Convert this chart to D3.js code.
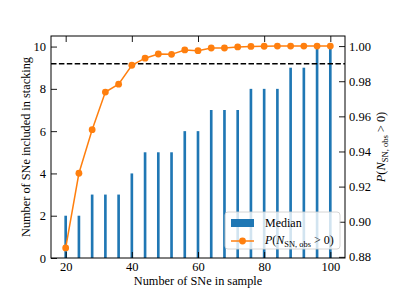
<!DOCTYPE html>
<meta charset="utf-8">
<script src="https://d3js.org/d3.v7.min.js"></script>
<style>
  body { margin: 0; background: #fff; }
  text { font-family: "Liberation Serif", "Times New Roman", serif; fill: #000; }
</style>
<svg id="chart" width="407" height="305"></svg>
<script>

// data
var sampleSizes  = [20, 24, 28, 32, 36, 40, 44, 48, 52, 56, 60, 64, 68, 72, 76, 80, 84, 88, 92, 96, 100];
var medianCounts = [2, 2, 3, 3, 3, 4, 5, 5, 5, 6, 6, 7, 7, 7, 8, 8, 8, 9, 9, 10, 10];
var probDetect   = [0.8851, 0.9276, 0.9524, 0.9738, 0.9783, 0.9891, 0.9931, 0.9955, 0.9953, 0.9978,
                    0.9974, 0.9989, 0.9989, 0.9995, 0.9998, 0.9999, 1.0, 1.0, 1.0, 1.0, 1.0];
var threshold    = 0.99;
var xTicks  = [20, 40, 60, 80, 100];
var yTicks  = [0, 2, 4, 6, 8, 10];
var y2Ticks = [0.88, 0.90, 0.92, 0.94, 0.96, 0.98, 1.00];

var svg = d3.select("#chart");
var L = 51, T = 36, R = 345, B = 258;

// matplotlib style limits: 5% margins around the data
var barW = 0.8;
var xmin = d3.min(sampleSizes) - barW / 2, xmax = d3.max(sampleSizes) + barW / 2;
var xpad = (xmax - xmin) * 0.05;
var x = d3.scaleLinear().domain([xmin - xpad, xmax + xpad]).range([L, R]);
var y = d3.scaleLinear().domain([0, d3.max(medianCounts) * 1.05]).range([B, T]);
var pmin = d3.min(probDetect), pmax = d3.max(probDetect), ppad = (pmax - pmin) * 0.05;
var y2 = d3.scaleLinear().domain([pmin - ppad, pmax + ppad]).range([B, T]);

// bars
svg.append("g")
  .selectAll("rect")
  .data(sampleSizes)
  .enter()
  .append("rect")
    .attr("x", function(d){ return x(d - barW / 2) })
    .attr("width", function(d){ return x(d + barW / 2) - x(d - barW / 2) })
    .attr("y", function(d, i){ return y(medianCounts[i]) })
    .attr("height", function(d, i){ return B - y(medianCounts[i]) })
    .attr("fill", "#1f77b4");

// dashed threshold
svg.append("line")
  .attr("x1", L).attr("x2", R)
  .attr("y1", y2(threshold)).attr("y2", y2(threshold))
  .attr("stroke", "#000")
  .attr("stroke-width", 1.5)
  .attr("stroke-dasharray", "5.5,2.4");

// probability line
var line = d3.line()
  .x(function(d, i){ return x(sampleSizes[i]) })
  .y(function(d){ return y2(d) });

svg.append("path")
  .datum(probDetect)
  .attr("d", line)
  .attr("fill", "none")
  .attr("stroke", "#ff7f0e")
  .attr("stroke-width", 1.5);

svg.append("g")
  .selectAll("circle")
  .data(probDetect)
  .enter()
  .append("circle")
    .attr("cx", function(d, i){ return x(sampleSizes[i]) })
    .attr("cy", function(d){ return y2(d) })
    .attr("r", 3.4)
    .attr("fill", "#ff7f0e");

// axes, ticks pointing inward
function styleAxis(g) {
  g.select(".domain").remove();
  g.selectAll("line").attr("stroke", "#000").attr("stroke-width", 0.9);
  g.selectAll("text").style("font-family", "Liberation Serif").attr("font-size", 12.5);
}

svg.append("g").attr("transform", "translate(0," + B + ")")
  .call(d3.axisBottom(x).tickValues(xTicks).tickSize(-6).tickPadding(4).tickFormat(d3.format("d")))
  .call(styleAxis);
svg.append("g").attr("transform", "translate(0," + T + ")")
  .call(d3.axisTop(x).tickValues(xTicks).tickSize(-6).tickFormat(""))
  .call(styleAxis);
svg.append("g").attr("transform", "translate(" + L + ",0)")
  .call(d3.axisLeft(y).tickValues(yTicks).tickSize(-6).tickPadding(5).tickFormat(d3.format("d")))
  .call(styleAxis);
svg.append("g").attr("transform", "translate(" + R + ",0)")
  .call(d3.axisRight(y2).tickValues(y2Ticks).tickSize(-6).tickPadding(4).tickFormat(d3.format(".2f")))
  .call(styleAxis);

// frame
svg.append("rect")
  .attr("x", L).attr("y", T)
  .attr("width", R - L).attr("height", B - T)
  .attr("fill", "none")
  .attr("stroke", "#000")
  .attr("stroke-width", 1);

// axis labels
svg.append("text")
  .attr("x", (L + R) / 2).attr("y", 284.5)
  .attr("text-anchor", "middle")
  .attr("font-size", 12.3)
  .text("Number of SNe in sample");

svg.append("text")
  .attr("transform", "translate(30," + (T + B) / 2 + ") rotate(-90)")
  .attr("text-anchor", "middle")
  .attr("font-size", 12.3)
  .text("Number of SNe included in stacking");

function probLabel(t, size) {
  t.append("tspan").attr("font-style", "italic").text("P");
  t.append("tspan").text("(");
  t.append("tspan").attr("font-style", "italic").text("N");
  t.append("tspan").attr("font-size", size * 0.7).attr("dy", size * 0.25).text("SN, obs");
  t.append("tspan").attr("dy", -size * 0.25).text(" > 0)");
}

var rl = svg.append("text")
  .attr("transform", "translate(385," + (T + B) / 2 + ") rotate(-90)")
  .attr("text-anchor", "middle")
  .attr("font-size", 12.3);
probLabel(rl, 12.3);

// legend
var lg = svg.append("g").attr("transform", "translate(225,212)");
lg.append("rect")
  .attr("width", 115).attr("height", 37)
  .attr("rx", 3)
  .attr("fill", "#fff").attr("fill-opacity", 0.8)
  .attr("stroke", "#ccc").attr("stroke-width", 0.8);
lg.append("rect")
  .attr("x", 6).attr("y", 7).attr("width", 23).attr("height", 8)
  .attr("fill", "#1f77b4");
lg.append("text").attr("x", 40).attr("y", 15).attr("font-size", 12).text("Median");
lg.append("line")
  .attr("x1", 6).attr("x2", 29).attr("y1", 29).attr("y2", 29)
  .attr("stroke", "#ff7f0e").attr("stroke-width", 1.5);
lg.append("circle").attr("cx", 17.5).attr("cy", 29).attr("r", 3.4).attr("fill", "#ff7f0e");
var lt = lg.append("text").attr("x", 40).attr("y", 32).attr("font-size", 12);
probLabel(lt, 12);

</script>
